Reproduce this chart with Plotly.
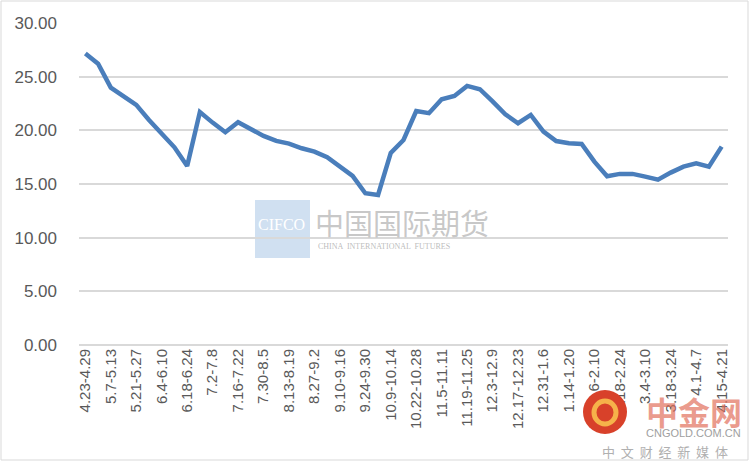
import plotly.graph_objects as go

weeks = [
    "4.23-4.29", "4.30-5.6", "5.7-5.13", "5.14-5.20", "5.21-5.27", "5.28-6.3",
    "6.4-6.10", "6.11-6.17", "6.18-6.24", "6.25-7.1", "7.2-7.8", "7.9-7.15",
    "7.16-7.22", "7.23-7.29", "7.30-8.5", "8.6-8.12", "8.13-8.19", "8.20-8.26",
    "8.27-9.2", "9.3-9.9", "9.10-9.16", "9.17-9.23", "9.24-9.30", "10.1-10.8",
    "10.9-10.14", "10.15-10.21", "10.22-10.28", "10.29-11.4", "11.5-11.11",
    "11.12-11.18", "11.19-11.25", "11.26-12.2", "12.3-12.9", "12.10-12.16",
    "12.17-12.23", "12.24-12.30", "12.31-1.6", "1.7-1.13", "1.14-1.20",
    "1.21-1.27", "2.6-2.10", "2.11-2.17", "2.18-2.24", "2.25-3.3", "3.4-3.10",
    "3.11-3.17", "3.18-3.24", "3.25-3.31", "4.1-4.7", "4.8-4.14", "4.15-4.21",
]
values = [
    27.15, 26.2, 23.98, 23.14, 22.37, 20.97, 19.64, 18.42, 16.68, 21.7,
    20.72, 19.82, 20.75, 20.1, 19.48, 19.01, 18.76, 18.33, 18.02, 17.49,
    16.62, 15.75, 14.14, 13.98, 17.9, 19.1, 21.8, 21.6, 22.9, 23.2,
    24.14, 23.83, 22.7, 21.5, 20.66, 21.43, 19.88, 19.0, 18.8, 18.73,
    17.08, 15.72, 15.94, 15.94, 15.69, 15.4, 16.06, 16.62, 16.93, 16.62,
    18.48,
]
tick_labels = weeks[::2]
y_ticks = [0, 5, 10, 15, 20, 25, 30]

L, R, T, B = 79, 23, 23, 118
W, H = 751, 463
pw, ph = W - L - R, H - T - B


def px(x):
    return (x - L) / pw


def py(y):
    return (H - B - y) / ph


fig = go.Figure()
fig.add_trace(go.Scatter(
    x=weeks, y=values, mode="lines",
    line=dict(color="#4a7ebb", width=4.5), hoverinfo="x+y",
))

shapes = [
    # chart border
    dict(type="rect", xref="paper", yref="paper", x0=px(1), x1=px(748), y0=py(460), y1=py(1),
         line=dict(color="#d9d9d9", width=1), fillcolor="rgba(0,0,0,0)", layer="below"),
    # CIFCO watermark block
    dict(type="rect", xref="paper", yref="paper", x0=px(255), x1=px(310), y0=py(258), y1=py(200),
         line=dict(width=0), fillcolor="rgba(200,218,238,0.85)", layer="below"),
    # cngold logo circle
    dict(type="circle", xref="paper", yref="paper", x0=px(583), x1=px(627), y0=py(434), y1=py(390),
         line=dict(width=0), fillcolor="#d8412a", layer="above"),
    dict(type="circle", xref="paper", yref="paper", x0=px(594), x1=px(616), y0=py(424), y1=py(401),
         line=dict(color="#f6b24a", width=5), fillcolor="rgba(0,0,0,0)", layer="above"),
]


def note(text, x, y, size, color, family, xanchor="center"):
    return dict(text=text, x=px(x), y=py(y), xref="paper", yref="paper", showarrow=False,
                xanchor=xanchor, yanchor="middle",
                font=dict(family=family, size=size, color=color))


annotations = [
    note("CIFCO", 256, 224, 16, "#ffffff", "Liberation Serif", "left"),
    note("中国国际期货", 313, 222, 29, "rgba(190,190,190,0.85)", "Noto Sans CJK SC", "left"),
    note("CHINA  INTERNATIONAL  FUTURES", 316, 246, 8, "rgba(180,180,180,0.9)", "Liberation Serif", "left"),
    note("<b>中金网</b>", 694, 411, 32, "rgba(225,110,90,0.7)", "Noto Sans CJK SC"),
    note("CNGOLD.COM.CN", 693, 433, 11, "#a0a0a0", "Liberation Sans"),
    note("中  文  财  经  新  媒  体", 665, 451, 13, "#b0b0b0", "Noto Sans CJK SC"),
]

fig.update_layout(
    width=W, height=H,
    margin=dict(l=L, r=R, t=T, b=B, autoexpand=False),
    paper_bgcolor="#ffffff", plot_bgcolor="#ffffff",
    showlegend=False,
    shapes=shapes,
    annotations=annotations,
    font=dict(family="Liberation Sans", color="#595959"),
)
fig.update_xaxes(
    type="category", categoryorder="array", categoryarray=weeks,
    range=[-0.5, len(weeks) - 0.5], automargin=False,
    tickmode="array", tickvals=tick_labels, ticktext=tick_labels,
    tickangle=-90, tickfont=dict(size=15, color="#595959"),
    showgrid=False, showline=False, zeroline=False, ticks="",
)
fig.update_yaxes(
    range=[0, 30], tickmode="array", tickvals=y_ticks, automargin=False,
    ticktext=[f"{v:.2f}" for v in y_ticks],
    tickfont=dict(size=17, color="#595959"),
    showgrid=True, gridcolor="#d9d9d9", gridwidth=1.5,
    zeroline=True, zerolinecolor="#d9d9d9", zerolinewidth=1.5,
    showline=False, ticks="", ticklabelstandoff=21,
)

fig.write_html("out.html", config={"displayModeBar": False},
               post_script="document.body.style.margin='0';document.body.style.padding='0';")
